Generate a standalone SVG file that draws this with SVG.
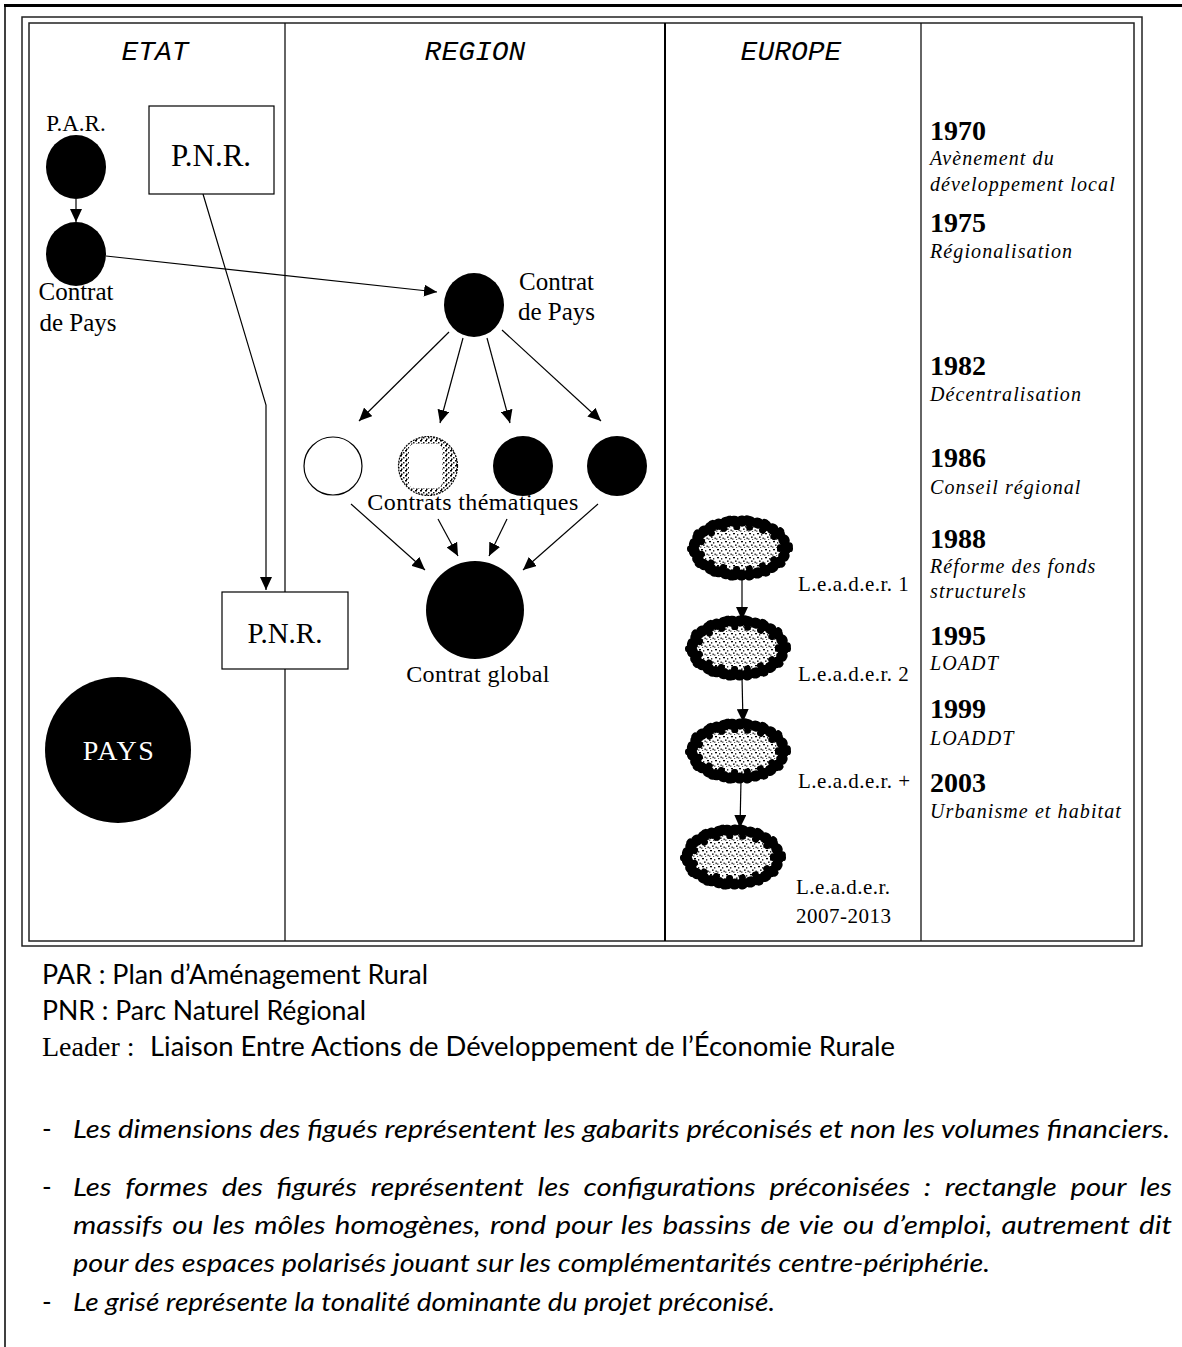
<svg xmlns="http://www.w3.org/2000/svg" width="1182" height="1347" viewBox="0 0 1182 1347">
<style>
.frame{fill:none;stroke:#222;stroke-width:1.5}
.div{stroke:#111;stroke-width:1.3}
.hdr{font-family:"Liberation Mono",monospace;font-style:italic;font-size:28px;fill:#000;text-anchor:middle}
.tm{font-family:"Liberation Serif",serif;fill:#000}
.lbl{font-family:"Liberation Serif",serif;font-size:24px;letter-spacing:0.4px;fill:#000}
.yr{font-family:"Liberation Serif",serif;font-weight:bold;font-size:28px;fill:#000}
.ev{font-family:"Liberation Serif",serif;font-style:italic;font-size:20px;letter-spacing:1.1px;fill:#000}
.ld{font-family:"Liberation Serif",serif;font-size:21px;letter-spacing:0.5px;fill:#000}
.leg{font-family:Lato,"Open Sans",sans-serif;font-size:26px;fill:#000}
.legi{font-family:Lato,"Open Sans",sans-serif;font-style:italic;font-size:26px;fill:#000}
.con{fill:none;stroke:#000;stroke-width:1.2}
.blk{fill:#000}
</style>
<defs>
<marker id="ah" viewBox="0 0 13 12" refX="13" refY="6" markerWidth="13" markerHeight="12" markerUnits="userSpaceOnUse" orient="auto">
<path d="M0,0 L13,6 L0,12 Z" fill="#000"/>
</marker>
<pattern id="speck" width="8" height="8" patternUnits="userSpaceOnUse">
<rect width="8" height="8" fill="#fff"/>
<rect x="1" y="1" width="2" height="1.3" fill="#000"/>
<rect x="5" y="2" width="1.3" height="1.6" fill="#333"/>
<rect x="3" y="4.5" width="1.6" height="1.3" fill="#000"/>
<rect x="6.5" y="5.5" width="1.3" height="1.6" fill="#222"/>
<rect x="0" y="6.5" width="1.5" height="1.2" fill="#444"/>
<rect x="4" y="7" width="1.2" height="1" fill="#555"/>
</pattern>
<pattern id="speck2" width="5" height="5" patternUnits="userSpaceOnUse">
<rect width="5" height="5" fill="#fff"/>
<rect x="0" y="0" width="2" height="1.5" fill="#000"/>
<rect x="3" y="2" width="1.5" height="1.5" fill="#111"/>
<rect x="1" y="3.5" width="1.5" height="1.5" fill="#000"/>
</pattern>
<g id="leader">
<ellipse cx="0" cy="0" rx="44" ry="25" fill="url(#speck)"/>
<ellipse cx="0" cy="0" rx="46" ry="27" fill="none" stroke="#000" stroke-width="11" stroke-dasharray="1 7" stroke-linecap="round"/>
<ellipse cx="0" cy="0" rx="40" ry="21" fill="none" stroke="#000" stroke-width="6" stroke-dasharray="1 12" stroke-linecap="round"/>
<ellipse cx="0" cy="0" rx="50" ry="30" fill="none" stroke="#000" stroke-width="6" stroke-dasharray="1 17" stroke-linecap="round"/>
</g>
</defs>
<rect width="1182" height="1347" fill="#fff"/>
<line x1="4" y1="5.5" x2="1182" y2="5.5" stroke="#000" stroke-width="3"/>
<line x1="5" y1="5" x2="5" y2="1347" stroke="#000" stroke-width="1.5"/>
<rect class="frame" x="22" y="17" width="1120" height="929"/>
<rect class="frame" x="29" y="23" width="1105" height="918"/>
<line class="div" x1="285" y1="23" x2="285" y2="941"/>
<line x1="665" y1="23" x2="665" y2="941" stroke="#000" stroke-width="2"/>
<line class="div" x1="921" y1="23" x2="921" y2="941"/>
<text class="hdr" x="155" y="60">ETAT</text>
<text class="hdr" x="475" y="60">REGION</text>
<text class="hdr" x="791" y="60">EUROPE</text>

<g id="connectors">
<line class="con" x1="76" y1="199" x2="76" y2="222" marker-end="url(#ah)"/>
<line class="con" x1="106" y1="256" x2="437" y2="292" marker-end="url(#ah)"/>
<polyline class="con" points="203,194 266,405 266,590" marker-end="url(#ah)"/>
<line class="con" x1="449" y1="332" x2="359" y2="421" marker-end="url(#ah)"/>
<line class="con" x1="463" y1="338" x2="440" y2="423" marker-end="url(#ah)"/>
<line class="con" x1="487" y1="338" x2="510" y2="423" marker-end="url(#ah)"/>
<line class="con" x1="502" y1="330" x2="601" y2="421" marker-end="url(#ah)"/>
<line class="con" x1="351" y1="504" x2="425" y2="570" marker-end="url(#ah)"/>
<line class="con" x1="438" y1="519" x2="458" y2="556" marker-end="url(#ah)"/>
<line class="con" x1="507" y1="519" x2="489" y2="556" marker-end="url(#ah)"/>
<line class="con" x1="598" y1="504" x2="523" y2="570" marker-end="url(#ah)"/>
<line class="con" x1="742" y1="578" x2="742" y2="620" marker-end="url(#ah)"/>
<line class="con" x1="742" y1="677" x2="743" y2="722" marker-end="url(#ah)"/>
<line class="con" x1="741" y1="780" x2="740" y2="828" marker-end="url(#ah)"/>
</g>

<g id="par">
<text class="tm" x="76" y="131" font-size="23" text-anchor="middle">P.A.R.</text>
<ellipse class="blk" cx="76" cy="167" rx="30" ry="32"/>
</g>
<g id="contrat-pays-etat">
<ellipse class="blk" cx="76" cy="254" rx="30" ry="32"/>
<text class="tm" x="76" y="300" font-size="25" text-anchor="middle">Contrat</text>
<text class="tm" x="78" y="331" font-size="25" text-anchor="middle">de Pays</text>
</g>
<g id="pnr-1">
<rect x="149" y="106" width="125" height="88" fill="#fff" stroke="#000" stroke-width="1.2"/>
<text class="tm" x="211" y="166" font-size="31" text-anchor="middle">P.N.R.</text>
</g>
<g id="pnr-2">
<rect x="222" y="592" width="126" height="77" fill="#fff" stroke="#000" stroke-width="1.2"/>
<text class="tm" x="285" y="643" font-size="29" text-anchor="middle">P.N.R.</text>
</g>
<g id="pays">
<circle class="blk" cx="118" cy="750" r="73"/>
<text class="tm" x="119" y="760" font-size="28" text-anchor="middle" letter-spacing="1.5" style="fill:#fff">PAYS</text>
</g>
<g id="contrat-pays-region">
<ellipse class="blk" cx="474" cy="305" rx="30" ry="32"/>
<text class="tm" x="519" y="290" font-size="25">Contrat</text>
<text class="tm" x="518" y="320" font-size="25">de Pays</text>
</g>
<g id="theme-1">
<circle cx="333" cy="466" r="29" fill="#fff" stroke="#000" stroke-width="1.2"/>
</g>
<g id="theme-2">
<circle cx="428" cy="466" r="29.5" fill="url(#speck2)" stroke="#000" stroke-width="1.2" stroke-dasharray="2 1"/>
<rect x="409" y="444" width="33" height="44" rx="5" fill="#fff"/>
</g>
<g id="theme-3">
<circle class="blk" cx="523" cy="466" r="30"/>
</g>
<g id="theme-4">
<circle class="blk" cx="617" cy="466" r="30"/>
</g>
<text class="lbl" x="473" y="510" text-anchor="middle">Contrats thématiques</text>
<g id="contrat-global">
<circle class="blk" cx="475" cy="610" r="49"/>
<text class="lbl" x="478" y="682" text-anchor="middle">Contrat global</text>
</g>

<g id="leader-1">
<use href="#leader" x="740" y="548"/>
<text class="ld" x="798" y="591">L.e.a.d.e.r. 1</text>
</g>
<g id="leader-2">
<use href="#leader" x="738" y="648"/>
<text class="ld" x="798" y="681">L.e.a.d.e.r. 2</text>
</g>
<g id="leader-plus">
<use href="#leader" x="738" y="751"/>
<text class="ld" x="798" y="788">L.e.a.d.e.r. +</text>
</g>
<g id="leader-2007">
<use href="#leader" x="733" y="857"/>
<text class="ld" x="796" y="894">L.e.a.d.e.r.</text>
<text class="ld" x="796" y="923">2007-2013</text>
</g>

<g id="timeline">
<text class="yr" x="930" y="140">1970</text>
<text class="ev" x="930" y="165">Avènement du</text>
<text class="ev" x="930" y="191">développement local</text>
<text class="yr" x="930" y="232">1975</text>
<text class="ev" x="930" y="258">Régionalisation</text>
<text class="yr" x="930" y="375">1982</text>
<text class="ev" x="930" y="401">Décentralisation</text>
<text class="yr" x="930" y="467">1986</text>
<text class="ev" x="930" y="494">Conseil régional</text>
<text class="yr" x="930" y="548">1988</text>
<text class="ev" x="930" y="573">Réforme des fonds</text>
<text class="ev" x="930" y="598">structurels</text>
<text class="yr" x="930" y="645">1995</text>
<text class="ev" x="930" y="670">LOADT</text>
<text class="yr" x="930" y="718">1999</text>
<text class="ev" x="930" y="745">LOADDT</text>
<text class="yr" x="930" y="792">2003</text>
<text class="ev" x="930" y="818">Urbanisme et habitat</text>
</g>

<g id="legend">
<text class="leg" x="42" y="984" textLength="386" lengthAdjust="spacingAndGlyphs">PAR : Plan d’Aménagement Rural</text>
<text class="leg" x="42" y="1020" textLength="324" lengthAdjust="spacingAndGlyphs">PNR : Parc Naturel Régional</text>
<text class="tm" x="42" y="1056" font-size="28">Leader :</text>
<text class="leg" x="150" y="1056" textLength="745" lengthAdjust="spacingAndGlyphs">Liaison Entre  Actions de Développement de l’Économie Rurale</text>
<text class="leg" x="42" y="1138">-</text>
<text class="legi" x="73" y="1138" textLength="1097" lengthAdjust="spacingAndGlyphs">Les dimensions des figués représentent les gabarits préconisés et non les volumes financiers.</text>
<text class="leg" x="42" y="1196">-</text>
<text class="legi" x="73" y="1196" textLength="1099" lengthAdjust="spacingAndGlyphs" word-spacing="6">Les formes des figurés représentent les configurations préconisées : rectangle pour les</text>
<text class="legi" x="73" y="1234" textLength="1099" lengthAdjust="spacingAndGlyphs" word-spacing="2">massifs ou les môles homogènes, rond pour les bassins de vie ou d’emploi, autrement dit</text>
<text class="legi" x="73" y="1272" textLength="917" lengthAdjust="spacingAndGlyphs">pour des espaces polarisés jouant sur les complémentarités centre-périphérie.</text>
<text class="leg" x="42" y="1311">-</text>
<text class="legi" x="73" y="1311" textLength="702" lengthAdjust="spacingAndGlyphs">Le grisé représente la tonalité dominante du projet préconisé.</text>
</g>
</svg>
